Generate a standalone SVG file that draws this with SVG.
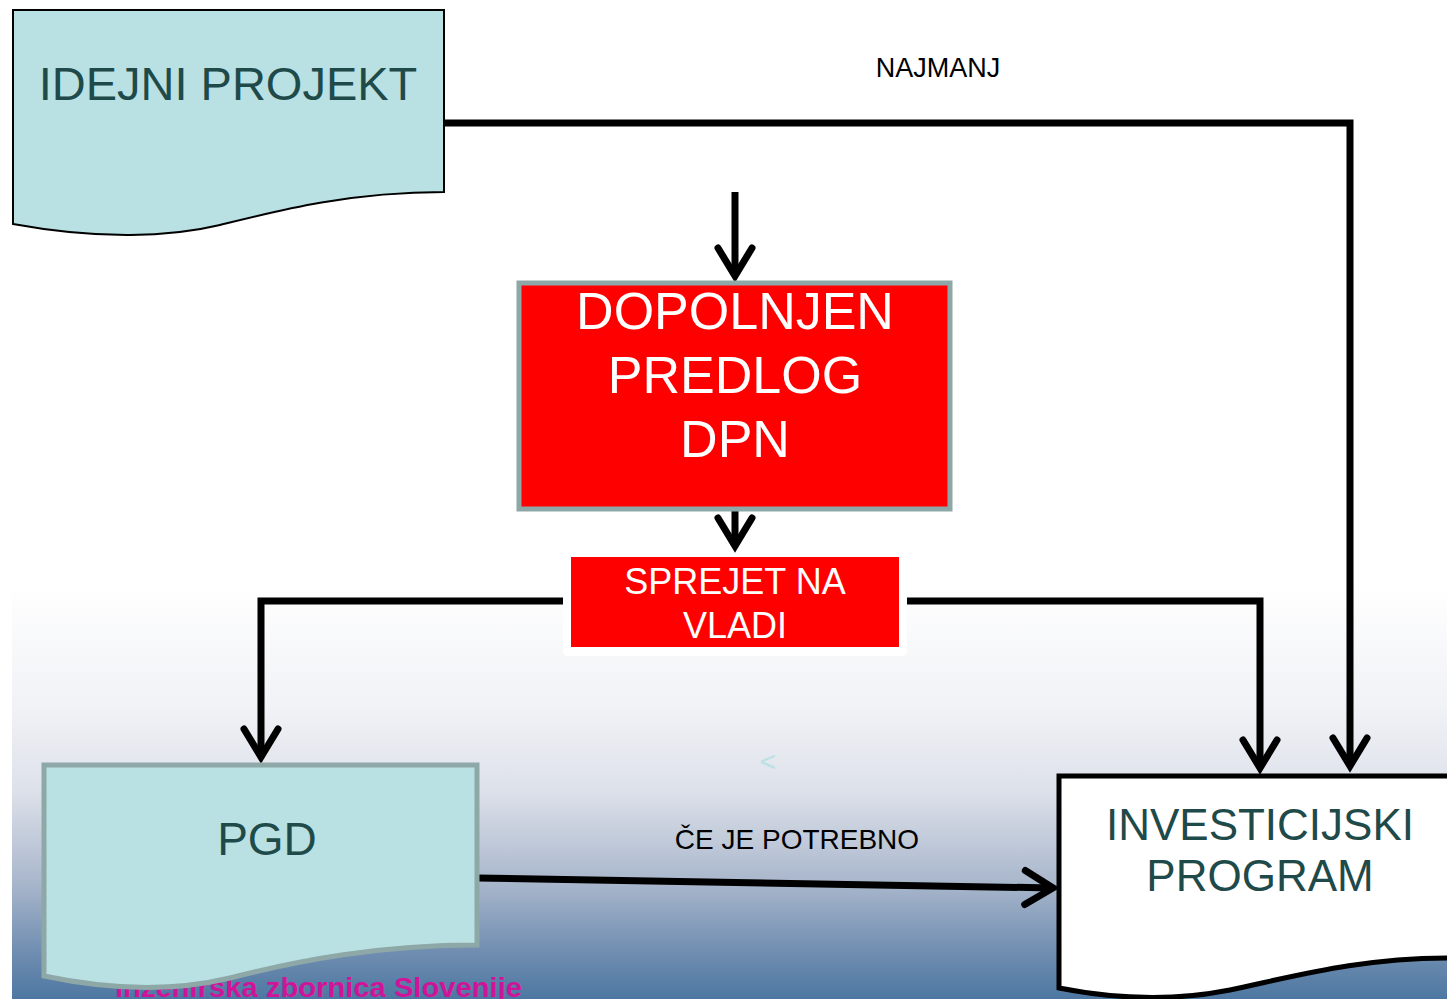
<svg xmlns="http://www.w3.org/2000/svg" width="1447" height="999" viewBox="0 0 1447 999">
<defs>
<linearGradient id="bg" x1="0" y1="0" x2="0" y2="1">
<stop offset="0" stop-color="#ffffff"/>
<stop offset="0.3" stop-color="#f1f2f6"/>
<stop offset="0.5" stop-color="#dde1ea"/>
<stop offset="0.72" stop-color="#a9b7cc"/>
<stop offset="0.88" stop-color="#728fb1"/>
<stop offset="1" stop-color="#4d77a2"/>
</linearGradient>
<marker id="v" viewBox="-40 -30 50 60" markerWidth="50" markerHeight="60" refX="0" refY="0" orient="auto" markerUnits="userSpaceOnUse">
<path d="M-28,-17 L0,0 L-28,17" fill="none" stroke="#000" stroke-width="7" stroke-linecap="round" stroke-linejoin="miter"/>
</marker>
<style>
.conn{fill:none;stroke:#000;stroke-width:7;stroke-linejoin:miter}
.doc{fill:#b9e0e3}
.teal{font-family:"Liberation Sans",Arial,sans-serif;fill:#1f4a4a;text-anchor:middle}
.white{font-family:"Liberation Sans",Arial,sans-serif;fill:#ffffff;text-anchor:middle}
.lbl{font-family:"Liberation Sans",Arial,sans-serif;fill:#000;text-anchor:middle}
</style>
</defs>
<rect x="0" y="0" width="1447" height="999" fill="#ffffff"/>
<rect x="12" y="583" width="1435" height="416" fill="url(#bg)"/>
<text x="115" y="997" font-family="'Liberation Sans',Arial,sans-serif" font-weight="bold" font-size="28" fill="#d0149a" textLength="407" lengthAdjust="spacingAndGlyphs">Inženirska zbornica Slovenije</text>
<g id="connectors">
<path class="conn" d="M444,123 L1350,123 L1350,766" marker-end="url(#v)"/>
<path class="conn" d="M735,192 L735,276" marker-end="url(#v)"/>
<path class="conn" d="M735,511 L735,546" marker-end="url(#v)"/>
<path class="conn" d="M566,601 L261,601 L261,757" marker-end="url(#v)"/>
<path class="conn" d="M903,601 L1260,601 L1260,768" marker-end="url(#v)"/>
<path class="conn" d="M477,878 L1053,888" marker-end="url(#v)"/>
</g>
<g id="idejni">
<path class="doc" d="M13,10 L444,10 L444,192 C350,192 280,210 220,225 C170,237 100,240 13,224 Z" stroke="#000" stroke-width="2"/>
<text class="teal" x="228" y="100" font-size="47">IDEJNI PROJEKT</text>
</g>
<g id="dopolnjen">
<rect x="519" y="283" width="431" height="226" fill="#ff0000" stroke="#8ea7a7" stroke-width="5"/>
<text class="white" x="735" y="329" font-size="52">DOPOLNJEN</text>
<text class="white" x="735" y="393" font-size="52">PREDLOG</text>
<text class="white" x="735" y="457" font-size="52">DPN</text>
</g>
<g id="sprejet">
<rect x="563" y="556" width="344" height="100" rx="5" fill="#ffffff"/>
<rect x="571" y="557" width="328" height="90" fill="#ff0000"/>
<text class="white" x="735" y="594" font-size="36">SPREJET NA</text>
<text class="white" x="735" y="638" font-size="36">VLADI</text>
</g>
<text x="768" y="771" font-family="'Liberation Sans',Arial,sans-serif" font-size="28" fill="#b9e0e3" text-anchor="middle">&lt;</text>
<g id="pgd">
<path class="doc" d="M44,765 L477,765 L477,945 C380,945 300,960 230,978 C180,990 120,992 44,976 Z" stroke="#8ea7a7" stroke-width="5"/>
<text class="teal" x="267" y="855" font-size="46">PGD</text>
</g>
<g id="investicijski">
<path d="M1059,776 L1452,776 L1452,958 C1360,958 1300,975 1230,990 C1180,1000 1120,1000 1059,988 Z" fill="#ffffff" stroke="#000" stroke-width="5"/>
<text class="teal" x="1260" y="840" font-size="44">INVESTICIJSKI</text>
<text class="teal" x="1260" y="891" font-size="44">PROGRAM</text>
</g>
<text class="lbl" x="938" y="77" font-size="27">NAJMANJ</text>
<text class="lbl" x="797" y="849" font-size="28">ČE JE POTREBNO</text>
</svg>
